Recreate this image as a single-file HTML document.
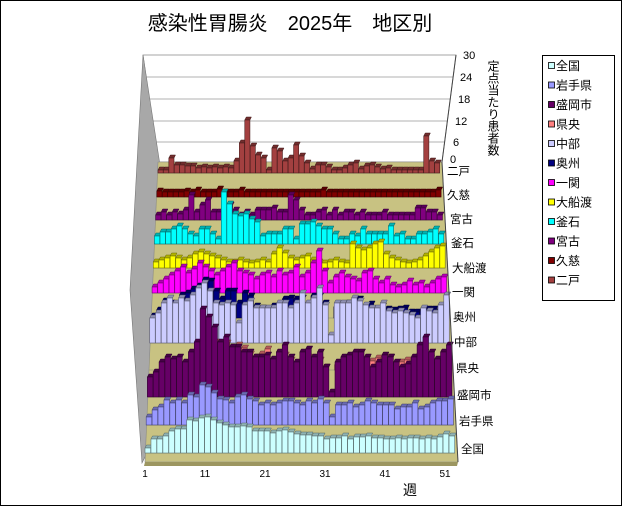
<!DOCTYPE html>
<html><head><meta charset="utf-8"><style>
html,body{margin:0;padding:0;background:#fff}
svg{display:block;font-family:"Liberation Sans","Noto Sans CJK JP",sans-serif}
</style></head><body>
<svg id="s" width="622" height="506" viewBox="0 0 622 506" xmlns="http://www.w3.org/2000/svg">
<rect x="0.5" y="0.5" width="621" height="505" fill="#fff" stroke="#000"/>
<text x="290" y="30" font-size="20" text-anchor="middle">感染性胃腸炎　2025年　地区別</text>
<polygon points="143,55 456,55 442,162 158,162" fill="#fff" stroke="#888" stroke-width="0.8"/>
<g stroke="#999" stroke-width="0.8">
<line x1="146" y1="77" x2="453" y2="77"/><line x1="148" y1="99" x2="450" y2="99"/>
<line x1="150" y1="121" x2="447" y2="121"/><line x1="152" y1="142" x2="444" y2="142"/>
</g>
<polygon points="143,55 160,165 146,455 142,463 130,290" fill="#a8a8a8" stroke="#777" stroke-width="0.6"/>
<polygon points="158,162 442,162 458,462 145,462" fill="#c8c282" stroke="#888" stroke-width="0.6"/>
<polygon points="145,462 458,462 457,466 144,466" fill="#9c9660"/>
<g id="rows"></g>
<line x1="456" y1="55" x2="442" y2="162" stroke="#444"/>
<line x1="442" y1="162" x2="458" y2="462" stroke="#444"/>
<g font-size="11">
<text x="463" y="59">30</text><text x="460" y="81">24</text><text x="458" y="103">18</text>
<text x="455" y="125">12</text><text x="453" y="146">6</text><text x="450" y="163">0</text>
</g>
<g font-size="11.5">
<text x="447" y="175">二戸</text><text x="447" y="199">久慈</text><text x="450" y="223">宮古</text>
<text x="451" y="247">釜石</text><text x="452" y="272">大船渡</text><text x="452" y="296">一関</text>
<text x="453" y="321">奥州</text><text x="454" y="346">中部</text><text x="456" y="372">県央</text>
<text x="457" y="399">盛岡市</text><text x="459" y="425">岩手県</text><text x="461" y="453">全国</text>
</g>
<text x="493" y="60" font-size="12" style="writing-mode:vertical-rl">定点当たり患者数</text>
<g font-size="10" text-anchor="middle">
<text x="145" y="477">1</text><text x="205" y="477">11</text><text x="265" y="477">21</text>
<text x="325" y="477">31</text><text x="385" y="477">41</text><text x="445" y="477">51</text>
</g>
<text x="410" y="495" font-size="14" text-anchor="middle">週</text>
<rect x="542.5" y="55.5" width="72" height="245" fill="#fff" stroke="#000"/>
<g id="leg" font-size="12"></g>
</svg>
<script>
const chubu=[25,30,40,45,40,45,42,48,55,60,52,40,38,40,38,20,38,42,35,35,35,35,40,40,35,40,50,40,45,55,38,8,40,40,40,45,42,38,35,35,40,32,30,32,30,28,25,35,32,30,38,48];
const oshuAdd=[2,3,2,-5,-2,3,8,6,2,3,10,12,6,12,14,20,12,5,2,0,-3,2,-2,4,10,4,-5,-2,2,-8,2,8,-4,-2,0,-3,2,-2,4,-1,-3,2,3,2,5,3,6,-3,2,4,-5,-10];
const oshu=chubu.map((v,i)=>Math.max(0,v-25+oshuAdd[i]));
const mori=[20,25,35,40,38,40,35,45,55,88,80,70,55,60,50,50,45,45,40,40,42,38,45,52,40,35,45,48,40,45,30,5,35,40,42,45,45,40,30,35,42,40,35,30,33,40,52,60,45,38,45,52];
const kenAdd=[5,-3,-2,-5,-5,-8,-5,-8,-10,-30,-25,-15,-8,-6,-3,2,4,-2,0,3,6,-2,-5,-10,-3,-8,-5,-8,-3,-8,0,10,-3,-5,-4,-6,-8,-2,6,4,-2,0,-3,5,4,-4,-10,-15,-6,-5,-8,-10];
const ken=mori.map((v,i)=>Math.max(0,v-27+kenAdd[i]));
const rows=[
["二戸","#a34040",173,[3,3,15,8,8,7,7,5,6,5,6,5,6,5,12,30,53,27,18,15,3,25,22,12,15,28,17,10,4,8,8,6,3,3,5,8,10,4,7,8,6,4,5,3,3,3,3,3,3,37,12,10]],
["久慈","#800000",197,[6,5,5,5,5,6,5,7,5,5,5,8,5,5,5,7,5,5,5,5,5,5,5,5,5,5,5,5,5,5,7,5,5,5,5,5,5,5,5,5,5,5,5,5,5,5,5,5,5,5,5,7]],
["宮古","#800080",220,[5,8,5,8,6,10,25,8,15,20,8,8,10,15,10,5,8,5,10,10,10,12,8,8,25,20,10,5,5,8,10,5,10,5,8,8,5,8,5,5,5,8,5,5,5,5,5,12,12,8,8,5]],
["釜石","#00ffff",244,[8,12,12,15,18,15,10,8,15,15,10,5,52,40,30,28,30,25,22,8,10,10,10,15,15,5,20,20,22,18,15,15,10,5,5,10,8,15,10,10,10,10,18,8,10,5,5,10,10,12,15,10]],
["大船渡","#ffff00",268,[6,8,10,12,10,8,10,14,16,14,12,10,8,6,6,8,6,5,6,8,6,14,20,15,10,8,10,12,8,6,5,6,8,6,5,24,20,18,20,24,26,14,10,8,6,5,6,8,12,16,20,22]],
["一関","#ff00ff",293,[6,10,14,18,22,26,20,24,30,26,22,18,22,26,30,22,20,18,14,18,20,16,22,18,20,26,16,20,30,42,22,10,16,20,16,14,12,20,22,14,10,14,8,6,8,12,8,10,6,10,14,16]],
["奥州","#000080",318,oshu],
["中部","#ccccff",343,chubu],
["県央","#ff8080",370,ken],
["盛岡市","#660066",397,mori],
["岩手県","#9999ff",425,[8,15,18,25,22,25,22,30,28,40,38,32,26,25,22,28,30,26,24,20,22,20,22,24,24,22,20,24,22,26,22,8,20,20,22,18,20,24,22,20,20,20,16,18,18,22,16,18,22,24,24,26]],
["全国","#ccffff",453,[5,14,14,17,22,24,24,33,32,35,36,33,30,28,26,26,27,26,22,22,22,20,22,23,21,19,18,18,17,17,14,15,15,17,14,16,16,17,15,15,14,14,15,14,15,15,14,15,14,16,19,17]]
];
function shade(c,f){let n=parseInt(c.slice(1),16);let r=n>>16,g=(n>>8)&255,b=n&255;return `rgb(${Math.round(r*f)},${Math.round(g*f)},${Math.round(b*f)})`;}
const NS="http://www.w3.org/2000/svg";
const G=document.getElementById("rows");
function el(t,a){const e=document.createElementNS(NS,t);for(const k in a)e.setAttribute(k,a[k]);return e;}
rows.forEach((r,i)=>{
 const base=r[2];
 const x0=158-i*13/11, x1=440+i*15/11;
 G.appendChild(el("line",{x1:x0,y1:base,x2:x1,y2:base,stroke:"#9a9a7a","stroke-width":0.7}));
 const d=r[3].slice(0,52), n=52, step=(x1-x0)/n, w=step*0.95;
 d.forEach((h,j)=>{
  if(h<=0)return;
  const x=x0+j*step, top=base-h;
  G.appendChild(el("polygon",{points:`${x},${top} ${x+w},${top} ${x+w+1.5},${top-3} ${x+1.5},${top-3}`,fill:shade(r[1],0.7),stroke:shade(r[1],0.4),"stroke-width":0.5}));
  G.appendChild(el("rect",{x:x,y:top,width:w,height:h,fill:r[1],stroke:shade(r[1],0.45),"stroke-width":0.6}));
 });
});
const L=document.getElementById("leg");
[...rows].reverse().forEach((r,i)=>{
 const y=70+i*19.5;
 L.appendChild(el("rect",{x:548.5,y:y-7.5,width:6,height:6,fill:r[1],stroke:"#000","stroke-width":0.8}));
 const t=el("text",{x:556,y:y});t.textContent=r[0];L.appendChild(t);
});
</script>
</body></html>
